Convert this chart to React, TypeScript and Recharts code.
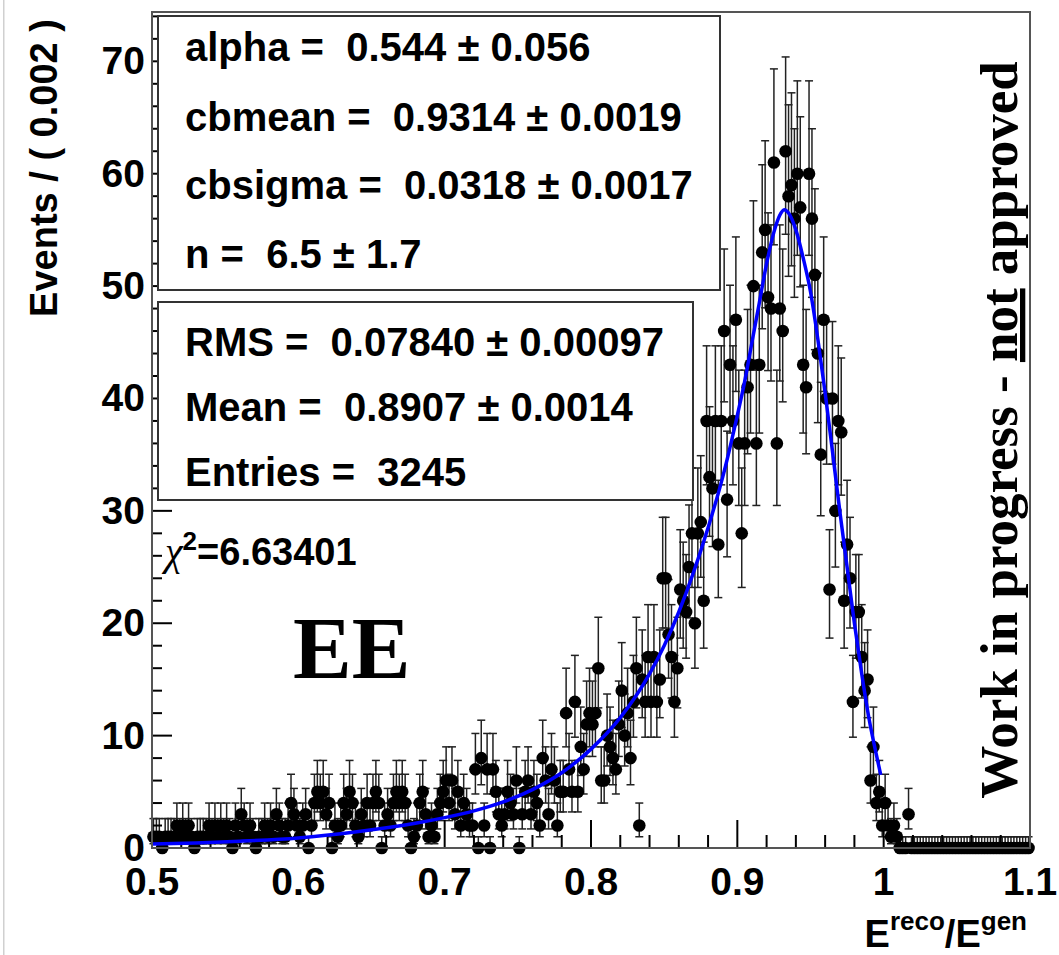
import React from "react";
import { ComposedChart, Scatter, Line, XAxis, YAxis, ErrorBar } from "recharts";

// events per bin (bin width 0.002), one array per 0.1 of x
const counts050 = [1, 1, 1, 0, 1, 1, 1, 1, 2, 1, 2, 1, 2, 1, 0, 1, 1, 1, 1, 2, 1, 2, 1, 2, 1, 2, 1, 0, 2, 1, 3, 2, 1, 2, 1, 0, 1, 1, 2, 1, 2, 1, 3, 2, 1, 1, 2, 4, 3, 2];
const counts060 = [1, 2, 3, 0, 2, 4, 5, 4, 5, 3, 4, 0, 2, 1, 2, 4, 3, 5, 4, 2, 1, 3, 2, 4, 2, 4, 5, 4, 0, 2, 3, 2, 4, 5, 4, 5, 4, 2, 0, 1, 2, 4, 5, 3, 1, 2, 1, 3, 4, 5];
const counts070 = [6, 4, 6, 3, 5, 2, 4, 3, 2, 2, 7, 0, 8, 2, 7, 0, 7, 5, 3, 2, 3, 5, 4, 3, 6, 0, 3, 5, 6, 3, 5, 4, 2, 8, 6, 3, 7, 6, 2, 5, 5, 12, 7, 5, 13, 5, 9, 7, 11, 12];
const counts080 = [11, 12, 16, 6, 6, 10, 9, 8, 7, 11, 14, 10, 12, 8, 13, 16, 2, 15, 13, 17, 13, 17, 13, 15, 24, 24, 19, 17, 13, 16, 23, 22, 21, 25, 28, 20, 28, 29, 22, 38, 33, 32, 38, 27, 38, 46, 31, 43, 38, 47];
const counts090 = [36, 28, 36, 41, 43, 50, 36, 43, 53, 55, 49, 48, 61, 36, 48, 46, 62, 58, 59, 56, 60, 57, 43, 41, 60, 56, 51, 44, 35, 47, 40, 23, 40, 30, 38, 37, 22, 27, 24, 13, 21, 21, 17, 14, 15, 6, 9, 4, 5, 2];
const counts100 = [4, 2, 1, 2, 1, 0, 0, 0, 3, 0, 0, 0, 0, 0, 0, 0, 0, 0, 0, 0, 0, 0, 0, 0, 0, 0, 0, 0, 0, 0, 0, 0, 0, 0, 0, 0, 0, 0, 0, 0, 0, 0, 0, 0, 0, 0, 0, 0, 0, 0];

// crystal ball fit curve
const fitX = [0.5, 0.53, 0.56, 0.6, 0.64, 0.68, 0.7, 0.72, 0.74, 0.76, 0.78, 0.8, 0.82, 0.84, 0.85, 0.86, 0.87, 0.88, 0.89, 0.9, 0.905, 0.91, 0.915, 0.92, 0.925, 0.929, 0.932, 0.935, 0.94, 0.945, 0.95, 0.955, 0.96, 0.965, 0.97, 0.975, 0.98, 0.985, 0.99, 0.995, 0.998];
const fitY = [0.35, 0.45, 0.6, 0.9, 1.45, 2.2, 2.7, 3.3, 4.1, 5.2, 6.7, 8.8, 11.6, 15.5, 18, 21, 24.5, 28.5, 33, 38.5, 41.5, 45, 48.5, 52, 54.8, 56.3, 56.8, 56.5, 55, 52.5, 49.5, 45.3, 40.5, 35.3, 30, 25, 20, 15.5, 11.5, 8.3, 6.5];

const xMajorTicks = [0.5, 0.6, 0.7, 0.8, 0.9, 1, 1.1];
const xMinorTicks = [0.52, 0.54, 0.56, 0.58, 0.62, 0.64, 0.66, 0.68, 0.72, 0.74, 0.76, 0.78, 0.82, 0.84, 0.86, 0.88, 0.92, 0.94, 0.96, 0.98, 1.02, 1.04, 1.06, 1.08];
const yMajorTicks = [0, 10, 20, 30, 40, 50, 60, 70];
const yMinorTicks = [2, 4, 6, 8, 12, 14, 16, 18, 22, 24, 26, 28, 32, 34, 36, 38, 42, 44, 46, 48, 52, 54, 56, 58, 62, 64, 66, 68, 72, 74];

const fitParams = ["alpha =  0.544 \u00b1 0.056", "cbmean =  0.9314 \u00b1 0.0019", "cbsigma =  0.0318 \u00b1 0.0017", "n =  6.5 \u00b1 1.7"];
const histStats = ["RMS =  0.07840 \u00b1 0.00097", "Mean =  0.8907 \u00b1 0.0014", "Entries =  3245"];

const SANS = "'Liberation Sans', Arial, sans-serif";
const SERIF = "'Liberation Serif', 'Times New Roman', serif";

const counts = [...counts050, ...counts060, ...counts070, ...counts080, ...counts090, ...counts100];
const points = counts.map((n, i) => {
  const s = Math.sqrt(n + 0.25);
  return { x: 0.5 + 0.002 * (i + 0.5), y: n, err: [s - 0.5, s + 0.5] };
});
const fitData = fitX.map((x, i) => ({ x, fit: fitY[i] }));
const xTicks = [...xMajorTicks, ...xMinorTicks].sort((a, b) => a - b);
const yTicks = [...yMajorTicks, ...yMinorTicks].sort((a, b) => a - b);

const isMajor = (list: number[], v: number) => list.some((t) => Math.abs(t - v) < 1e-6);

function XTick(props: any) {
  const { x, y, payload } = props;
  const major = isMajor(xMajorTicks, payload.value);
  return (
    <g>
      <line x1={x} x2={x} y1={y} y2={y - (major ? 28 : 13)} stroke="#000" strokeWidth={2} />
      {major && (
        <text x={x} y={y + 47} textAnchor="middle" fontFamily={SANS} fontWeight="bold" fontSize={39} fill="#000">
          {String(payload.value)}
        </text>
      )}
    </g>
  );
}

function YTick(props: any) {
  const { x, y, payload } = props;
  const major = isMajor(yMajorTicks, payload.value);
  return (
    <g>
      <line x1={x} x2={x + (major ? 20 : 10)} y1={y} y2={y} stroke="#000" strokeWidth={2} />
      {major && (
        <text x={x - 7} y={y + 13} textAnchor="end" fontFamily={SANS} fontWeight="bold" fontSize={39} fill="#000">
          {String(payload.value)}
        </text>
      )}
    </g>
  );
}

const dot = (p: any) => <circle cx={p.cx} cy={p.cy} r={6.3} fill="#000" />;

const W = 1059;
const H = 955;
const MARGIN = { top: 13, right: 29, bottom: 0, left: 0 };

export default function App() {
  return (
    <div style={{ position: "absolute", left: 0, top: 0, width: W, height: H, background: "#fff" }}>
      <ComposedChart width={W} height={H} margin={MARGIN}>
        <XAxis
          type="number"
          dataKey="x"
          domain={[0.5, 1.1]}
          ticks={xTicks}
          interval={0}
          tickSize={0}
          tickMargin={0}
          tickLine={false}
          height={107}
          axisLine={{ stroke: "#000", strokeWidth: 2 }}
          tick={<XTick />}
        />
        <YAxis
          type="number"
          domain={[0, 74.3]}
          ticks={yTicks}
          interval={0}
          tickSize={0}
          tickMargin={0}
          tickLine={false}
          width={152}
          axisLine={{ stroke: "#000", strokeWidth: 2 }}
          tick={<YTick />}
        />
        <Scatter data={points} dataKey="y" shape={dot} isAnimationActive={false}>
          <ErrorBar dataKey="err" direction="y" width={4} stroke="#222" strokeWidth={1.5} />
        </Scatter>
      </ComposedChart>

      {/* fit curve on its own layer so it sits above the points, same axes */}
      <div style={{ position: "absolute", left: 0, top: 0 }}>
        <ComposedChart width={W} height={H} margin={MARGIN} data={fitData}>
          <XAxis type="number" dataKey="x" domain={[0.5, 1.1]} height={107} tick={false} tickLine={false} axisLine={false} />
          <YAxis type="number" domain={[0, 74.3]} width={152} tick={false} tickLine={false} axisLine={false} />
          <Line dataKey="fit" type="monotone" stroke="#0000ff" strokeWidth={3.5} dot={false} isAnimationActive={false} />
        </ComposedChart>
      </div>

      <svg width={W} height={H} style={{ position: "absolute", left: 0, top: 0, pointerEvents: "none" }}>
        <rect x={3} y={0} width={1.5} height={H} fill="#d0d0d0" />
        <rect x={152} y={12} width={878} height={836} fill="none" stroke="#555" strokeWidth={2} />

        <rect x={158} y={16} width={562} height={274} fill="#fff" stroke="#333" strokeWidth={2} />
        {fitParams.map((t, i) => (
          <text key={t} x={185} y={[61, 131, 199, 268][i]} fontFamily={SANS} fontWeight="bold" fontSize={40} fill="#000" style={{ whiteSpace: "pre" }}>
            {t}
          </text>
        ))}
        <rect x={158} y={302} width={535} height={198} fill="#fff" stroke="#333" strokeWidth={2} />
        {histStats.map((t, i) => (
          <text key={t} x={185} y={[356, 421, 486][i]} fontFamily={SANS} fontWeight="bold" fontSize={40} fill="#000" style={{ whiteSpace: "pre" }}>
            {t}
          </text>
        ))}

        <text x={165} y={565} fontFamily={SANS} fontWeight="bold" fontSize={38} fill="#000">
          <tspan fontFamily={SERIF} fontStyle="italic" fontWeight="normal" fontSize={40}>χ</tspan>
          <tspan fontSize={26} dy={-15}>2</tspan>
          <tspan dy={15}>=6.63401</tspan>
        </text>

        <text x={293} y={678} fontFamily={SERIF} fontWeight="bold" fontSize={88} fill="#000">EE</text>

        <text transform="translate(1017,430) rotate(-90)" textAnchor="middle" fontFamily={SERIF} fontWeight="bold" fontSize={53} fill="#000">
          Work in progress - <tspan style={{ textDecoration: "underline" }}>not</tspan> approved
        </text>

        <text transform="translate(57,168) rotate(-90)" textAnchor="middle" fontFamily={SANS} fontWeight="bold" fontSize={38} fill="#000" style={{ whiteSpace: "pre" }}>
          Events / ( 0.002 )
        </text>

        <text x={1027} y={947} textAnchor="end" fontFamily={SANS} fontWeight="bold" fontSize={38} fill="#000">
          E<tspan fontSize={26} dy={-17}>reco</tspan>
          <tspan dy={17}>/E</tspan>
          <tspan fontSize={26} dy={-17}>gen</tspan>
        </text>
      </svg>
    </div>
  );
}
